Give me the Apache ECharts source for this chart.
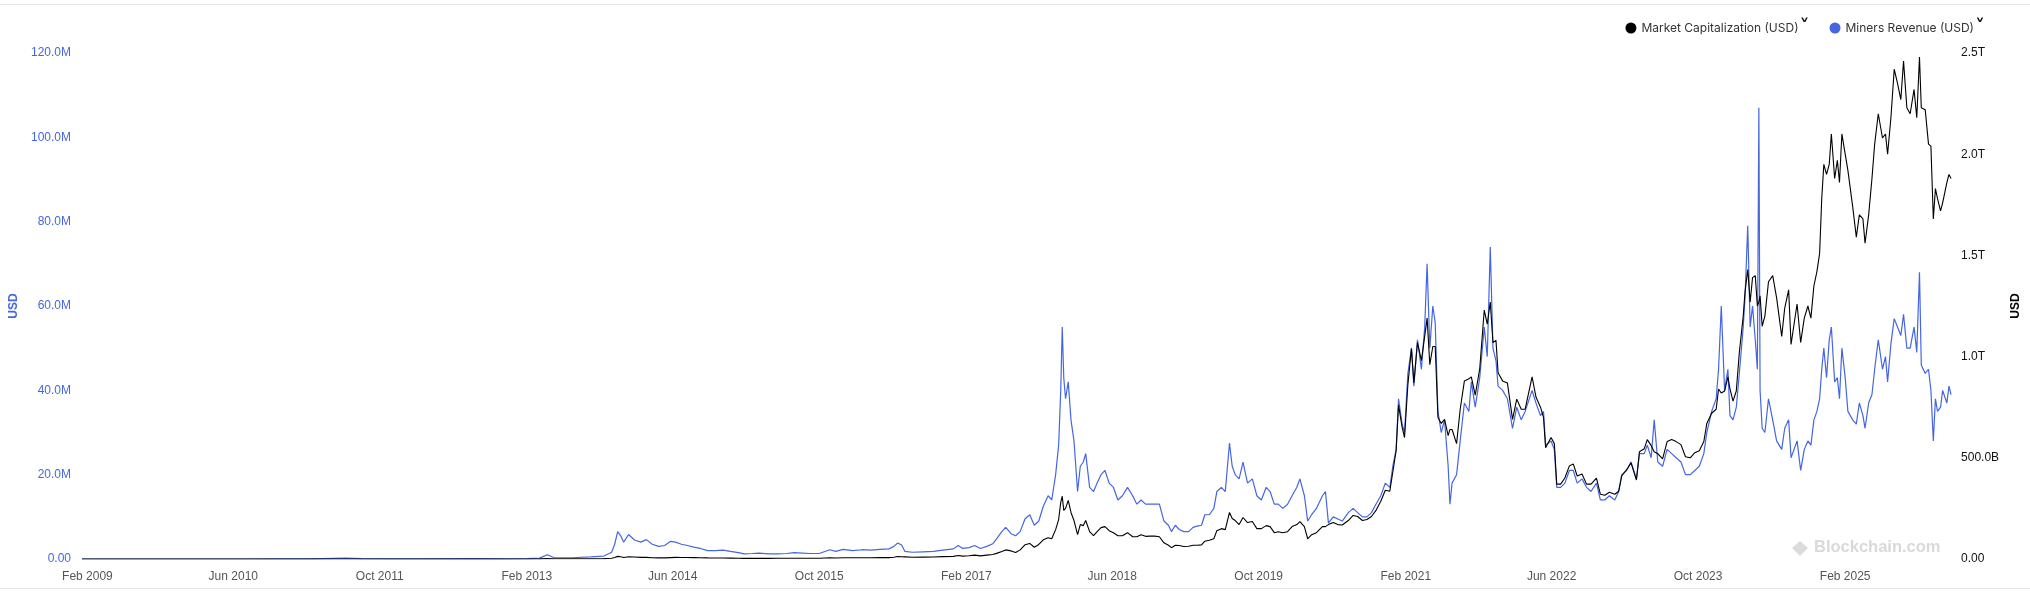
<!DOCTYPE html>
<html>
<head>
<meta charset="utf-8">
<script src="https://cdn.jsdelivr.net/npm/echarts@6/dist/echarts.min.js"></script>
<style>
  html, body { margin: 0; padding: 0; background: #fff; }
  #chart { width: 2030px; height: 598px; }
</style>
</head>
<body>
<div id="chart"></div>
<script>
// dates of the samples (daily chart)
const dates = [
  '2009-01-14','2009-07-01',
  '2010-01-01','2010-07-15','2010-11-10',
  '2011-02-10','2011-06-10','2011-08-01','2011-11-15',
  '2012-03-01','2012-08-15','2012-11-28',
  '2013-02-01','2013-03-15','2013-04-10','2013-05-01','2013-07-01','2013-09-01','2013-10-15','2013-11-10','2013-11-20','2013-11-30','2013-12-10','2013-12-20',
  '2014-01-05','2014-01-25','2014-02-15','2014-03-05','2014-03-25','2014-04-15','2014-05-05','2014-05-25','2014-06-10','2014-06-30','2014-07-20','2014-08-10','2014-09-01','2014-09-25','2014-10-20','2014-11-15','2014-12-10',
  '2015-01-05','2015-01-25','2015-02-20','2015-03-15','2015-04-15','2015-05-15','2015-06-15','2015-07-10','2015-08-05','2015-09-01','2015-10-01','2015-11-05','2015-11-25','2015-12-20',
  '2016-01-20','2016-02-20','2016-03-20','2016-04-20','2016-05-20','2016-06-05','2016-06-18','2016-07-01','2016-07-12','2016-08-05','2016-09-10','2016-10-15','2016-11-15','2016-12-20',
  '2017-01-05','2017-01-20','2017-02-10','2017-03-01','2017-03-20','2017-04-10','2017-04-30','2017-05-15','2017-05-30','2017-06-12','2017-06-30','2017-07-15','2017-07-30','2017-08-15','2017-08-31','2017-09-15','2017-09-30','2017-10-15','2017-10-31','2017-11-12','2017-11-25','2017-12-05','2017-12-12','2017-12-17','2017-12-22','2017-12-28',
  '2018-01-06','2018-01-15','2018-01-25','2018-02-06','2018-02-15','2018-02-25','2018-03-05','2018-03-18','2018-03-31','2018-04-12','2018-04-25','2018-05-08','2018-05-22','2018-06-05','2018-06-20','2018-07-05','2018-07-22','2018-08-08','2018-08-22','2018-09-05','2018-09-20','2018-10-05','2018-10-20','2018-11-05','2018-11-20','2018-12-05','2018-12-15','2018-12-28',
  '2019-01-10','2019-01-25','2019-02-10','2019-02-25','2019-03-10','2019-03-25','2019-04-05','2019-04-20','2019-05-05','2019-05-15','2019-05-30','2019-06-12','2019-06-26','2019-07-05','2019-07-15','2019-07-28','2019-08-10','2019-08-25','2019-09-10','2019-09-25','2019-10-10','2019-10-26','2019-11-08','2019-11-22','2019-12-05','2019-12-20',
  '2020-01-05','2020-01-20','2020-02-05','2020-02-15','2020-03-01','2020-03-12','2020-03-25','2020-04-10','2020-04-30','2020-05-10','2020-05-20','2020-06-05','2020-06-20','2020-07-05','2020-07-25','2020-08-10','2020-08-25','2020-09-10','2020-09-25','2020-10-10','2020-10-25','2020-11-10','2020-11-25','2020-12-10','2020-12-20','2020-12-31',
  '2021-01-08','2021-01-20','2021-01-28','2021-02-08','2021-02-20','2021-02-28','2021-03-12','2021-03-25','2021-04-05','2021-04-13','2021-04-22','2021-05-02','2021-05-10','2021-05-19','2021-05-30','2021-06-10','2021-06-22','2021-06-28','2021-07-05','2021-07-20','2021-08-01','2021-08-15','2021-08-30','2021-09-07','2021-09-20','2021-10-05','2021-10-20','2021-10-30','2021-11-09','2021-11-18','2021-11-28','2021-12-05','2021-12-20',
  '2022-01-05','2022-01-22','2022-02-05','2022-02-20','2022-03-05','2022-03-28','2022-04-10','2022-04-25','2022-05-05','2022-05-12','2022-05-30','2022-06-10','2022-06-18','2022-07-01','2022-07-15','2022-07-30','2022-08-12','2022-08-25','2022-09-10','2022-09-25','2022-10-10','2022-10-28','2022-11-10','2022-11-25','2022-12-10','2022-12-28',
  '2023-01-10','2023-01-20','2023-02-05','2023-02-20','2023-03-10','2023-03-20','2023-04-05','2023-04-15','2023-04-28','2023-05-08','2023-05-20','2023-06-05','2023-06-20','2023-07-05','2023-07-20','2023-08-05','2023-08-20','2023-09-05','2023-09-20','2023-10-05','2023-10-20','2023-10-30','2023-11-15','2023-11-30','2023-12-08','2023-12-17','2023-12-28',
  '2024-01-08','2024-01-15','2024-01-25','2024-02-05','2024-02-15','2024-02-28','2024-03-05','2024-03-14','2024-03-22','2024-03-30','2024-04-08','2024-04-15','2024-04-20','2024-04-24','2024-05-01','2024-05-10','2024-05-22','2024-06-05','2024-06-18','2024-07-05','2024-07-15','2024-07-28','2024-08-05','2024-08-15','2024-08-25','2024-09-06','2024-09-18','2024-09-30','2024-10-10','2024-10-20','2024-10-30','2024-11-08','2024-11-15','2024-11-22','2024-12-01','2024-12-10','2024-12-17','2024-12-28',
  '2025-01-06','2025-01-13','2025-01-21','2025-02-01','2025-02-10','2025-02-26','2025-03-10','2025-03-20','2025-04-01','2025-04-08','2025-04-20','2025-05-01','2025-05-10','2025-05-22','2025-06-05','2025-06-15','2025-06-22','2025-07-03','2025-07-14','2025-07-25','2025-08-05','2025-08-14','2025-08-25','2025-09-05','2025-09-18','2025-09-27','2025-10-06','2025-10-12','2025-10-25','2025-11-05','2025-11-13','2025-11-21','2025-11-28','2025-12-05','2025-12-15','2025-12-22','2026-01-05','2026-01-12','2026-01-19'
];

// Miners Revenue, millions of USD (left axis)
const minersRevenue = [
  0, 0,
  0.001, 0.005, 0.02,
  0.01, 0.2, 0.09, 0.02,
  0.035, 0.08, 0.04,
  0.07, 0.2, 1.0, 0.35, 0.3, 0.5, 0.7, 1.6, 3.5, 6.5, 5.5, 4.0,
  5.8, 4.5, 4.0, 4.6, 3.5, 3.0, 3.2, 4.2, 4.0, 3.5, 3.2, 2.8, 2.5, 2.0, 2.0, 2.1, 1.8,
  1.5, 1.2, 1.3, 1.4, 1.2, 1.2, 1.3, 1.5, 1.4, 1.3, 1.3, 2.2, 1.8, 2.3,
  2.0, 2.2, 2.1, 2.3, 2.4, 3.0, 3.8, 3.3, 1.8, 1.6, 1.7, 1.8, 2.1, 2.4,
  3.2, 2.5, 2.7, 3.2, 2.5, 3.0, 3.6, 5.0, 6.5, 7.5, 6.0, 5.5, 6.5, 9.5, 10.5, 8.0, 9.0, 12.5, 15, 14, 20, 27, 40, 55, 43, 38,
  42, 33, 28, 16, 22, 23, 25, 17, 16, 18, 20, 21, 18, 17, 14, 15, 17, 15, 13, 14, 13, 13, 13, 13, 9, 8, 6.5, 8,
  7, 6.5, 6.5, 7.5, 7.8, 8, 10.5, 10.5, 12, 16, 17, 16, 27.5, 22, 20, 19, 23, 18, 19, 15, 14, 17, 16, 13, 13, 12,
  13, 15, 17, 19, 15, 9, 10.5, 12, 15, 16, 8.5, 10, 9.5, 9, 11, 12, 11, 10, 10, 11, 13, 15, 18, 17, 22, 26,
  38, 32, 30, 44, 50, 41, 52, 45, 55, 70, 50, 60, 56, 35, 30, 33, 22, 13, 18, 20, 28, 37, 35, 42, 36, 43, 55, 48, 74, 50, 47, 41, 40,
  38, 31, 36, 33, 35, 40, 37, 34, 35, 27, 28, 26, 17, 17, 18, 21, 21, 18, 19, 17, 16, 18, 14, 14, 15, 14,
  16, 20, 21, 23, 19, 25, 25, 27, 24, 33, 23, 22, 26, 25, 24, 23, 20, 20, 21, 22, 25, 30, 35, 38, 45, 60, 40,
  45, 34, 33, 36, 44, 55, 62, 79, 55, 60, 52, 45, 107, 40, 31, 30, 38, 33, 28, 26, 31, 33, 24, 26, 28, 21, 26, 28, 27, 33, 35, 38, 45, 50, 43, 52, 55, 42,
  43, 38, 50, 43, 35, 33, 32, 37, 34, 31, 37, 39, 45, 52, 45, 48, 42, 51, 57, 55, 53, 58, 50, 50, 55, 49, 68, 46, 44, 45, 40, 28, 38, 35, 36, 40, 37, 41, 39
];

// Market Capitalization, billions of USD (right axis)
const marketCap = [
  0, 0,
  0, 0.0005, 0.0015,
  0.005, 0.13, 0.07, 0.02,
  0.04, 0.12, 0.13,
  0.22, 0.5, 2.3, 1.3, 1.0, 1.5, 1.8, 3.5, 7.5, 13, 11, 7.5,
  11, 10, 8, 8, 6.5, 5.5, 5.5, 7, 8, 7.5, 7.5, 7, 6.5, 5.5, 5, 5, 4.5,
  4, 3.2, 3.3, 4, 3.3, 3.4, 3.4, 4, 4, 3.4, 3.5, 6, 5, 6.5,
  6, 6.5, 6.3, 7, 7, 9, 12, 11, 10.5, 9, 9.5, 10, 11.5, 13,
  17, 14, 16, 19, 15.5, 19, 22, 29, 37, 45, 40, 32, 45, 70, 77, 58, 72, 95, 105, 100, 145, 195, 280, 310, 240, 250,
  290, 230, 190, 120, 170, 165, 190, 135, 115, 135, 155, 160, 140, 130, 115, 115, 130, 110, 110, 120, 112, 113, 113, 110, 80, 68, 56, 68,
  67, 62, 63, 68, 68, 70, 88, 93, 100, 140, 150, 145, 230, 200, 190, 170, 205, 180, 185, 150, 150, 165, 160, 130, 135, 130,
  135, 160, 170, 185, 160, 100, 120, 130, 160, 160, 170, 180, 170, 168, 190, 215, 210, 190, 195, 210, 240, 285, 340, 335, 430, 535,
  760, 650, 600, 860, 1040, 870, 1070, 980, 1100, 1190, 960, 1050, 1050, 700, 670, 690, 610, 640, 640, 570, 740, 880, 890, 900, 810, 940, 1230, 1160, 1270, 1070, 1080, 920, 880,
  870, 690, 790, 740, 740, 900, 800, 750, 700, 550, 600, 570, 370, 370, 400, 460, 470, 410, 420, 370, 370, 400, 320, 315, 330, 320,
  335, 410, 440, 475, 390, 530, 545, 590, 560, 530, 520, 495, 580, 590, 580, 565, 505, 500, 525, 535, 580, 670, 720, 740, 840, 820, 830,
  900, 840, 780, 830, 1020, 1200, 1320, 1430, 1270, 1390, 1400, 1250, 1270, 1300, 1150, 1200, 1370, 1400, 1290, 1100, 1240, 1330, 1060, 1160, 1260, 1070, 1190, 1250, 1190, 1350, 1420, 1510, 1780, 1950, 1900, 1950, 2100, 1880,
  1970, 1860, 2100, 2000, 1920, 1740, 1590, 1700, 1680, 1560, 1700, 1880, 2050, 2200, 2080, 2100, 2000, 2180, 2420, 2350, 2270, 2460, 2230, 2200, 2320, 2180, 2480, 2230, 2220, 2050, 2040, 1680, 1830, 1780, 1720, 1760, 1860, 1900, 1880
];

// x axis tick labels (one every 16 months)
const tickLabels = ['Feb 2009', 'Jun 2010', 'Oct 2011', 'Feb 2013', 'Jun 2014', 'Oct 2015', 'Feb 2017',
  'Jun 2018', 'Oct 2019', 'Feb 2021', 'Jun 2022', 'Oct 2023', 'Feb 2025'];

const months = ['Jan','Feb','Mar','Apr','May','Jun','Jul','Aug','Sep','Oct','Nov','Dec'];
const toTime = s => {
  const [y, m, d] = s.split('-').map(Number);
  return Date.UTC(y, m - 1, d);
};
const tickValues = tickLabels.map(t => {
  const [m, y] = t.split(' ');
  return Date.UTC(+y, months.indexOf(m), 1);
});

const blue = '#4466e3';
const myChart = echarts.init(document.getElementById('chart'));

const option = {
  animation: false,
  backgroundColor: '#ffffff',
  textStyle: { fontFamily: 'Liberation Sans, Arial, sans-serif' },
  legend: {
    top: 13,
    right: 40,
    icon: 'circle',
    itemWidth: 11,
    itemHeight: 11,
    itemGap: 20,
    formatter: name => name + '{ch|˅}',
    textStyle: {
      color: '#333333',
      fontSize: 12,
      fontFamily: 'Inter, sans-serif',
      rich: {
        ch: { fontSize: 20, fontWeight: 'bold', color: '#111', fontFamily: 'DejaVu Sans', padding: [0, 0, 0, 1] }
      }
    },
    data: ['Market Capitalization (USD)', 'Miners Revenue (USD)']
  },
  grid: {
    left: 81,
    right: 78,
    top: 53,
    bottom: 39
  },
  xAxis: {
    type: 'value',
    min: toTime('2009-01-14'),
    max: toTime('2026-01-19'),
    axisLine: { show: false },
    axisTick: { show: false },
    splitLine: { show: false },
    axisLabel: {
      customValues: tickValues,
      color: '#555555',
      fontSize: 12,
      margin: 12,
      formatter: value => {
        const d = new Date(value);
        return months[d.getUTCMonth()] + ' ' + d.getUTCFullYear();
      }
    }
  },
  yAxis: [
    {
      type: 'value',
      position: 'left',
      min: 0,
      max: 120,
      interval: 20,
      name: 'USD',
      nameLocation: 'middle',
      nameGap: 62,
      nameTextStyle: { color: blue, fontWeight: 'bold', fontSize: 12 },
      axisLine: { show: false },
      axisTick: { show: false },
      splitLine: { show: false },
      axisLabel: {
        color: blue,
        fontSize: 12,
        margin: 11,
        formatter: v => v === 0 ? '0.00' : v.toFixed(1) + 'M'
      }
    },
    {
      type: 'value',
      position: 'right',
      min: 0,
      max: 2500,
      interval: 500,
      name: 'USD',
      nameLocation: 'middle',
      nameGap: 56,
      nameTextStyle: { color: '#000', fontWeight: 'bold', fontSize: 12 },
      axisLine: { show: false },
      axisTick: { show: false },
      splitLine: { show: false },
      axisLabel: {
        color: '#111111',
        fontSize: 12,
        margin: 10,
        formatter: v => {
          if (v === 0) return '0.00';
          if (v >= 1000) return (v / 1000).toFixed(1) + 'T';
          return v.toFixed(1) + 'B';
        }
      }
    }
  ],
  graphic: [
    { type: 'line', shape: { x1: 0, y1: 4.5, x2: 2030, y2: 4.5 }, style: { stroke: '#e6e6e6', lineWidth: 1 }, silent: true },
    { type: 'line', shape: { x1: 0, y1: 588.5, x2: 2030, y2: 588.5 }, style: { stroke: '#e6e6e6', lineWidth: 1 }, silent: true },
    {
      type: 'polygon', silent: true, z: -1,
      shape: { points: [[1800, 541], [1808, 548], [1800, 556], [1792, 548]] },
      style: { fill: '#dcdcdc' }
    },
    {
      type: 'text', left: 1814, top: 539, silent: true, z: -1,
      style: { text: 'Blockchain.com', fill: '#d9d9d9', font: 'bold 16.5px "Liberation Sans", Arial, sans-serif' }
    }
  ],
  series: [
    {
      name: 'Market Capitalization (USD)',
      type: 'line',
      yAxisIndex: 1,
      showSymbol: false,
      symbol: 'circle',
      color: '#000000',
      lineStyle: { width: 1.1, color: '#000000' },
      z: 3,
      data: dates.map((d, i) => [toTime(d), marketCap[i]])
    },
    {
      name: 'Miners Revenue (USD)',
      type: 'line',
      yAxisIndex: 0,
      showSymbol: false,
      symbol: 'circle',
      color: blue,
      lineStyle: { width: 1.2, color: blue },
      z: 2,
      data: dates.map((d, i) => [toTime(d), minersRevenue[i]])
    }
  ]
};

myChart.setOption(option);

window.addEventListener('resize', () => {
  myChart.resize();
});
</script>
</body>
</html>
